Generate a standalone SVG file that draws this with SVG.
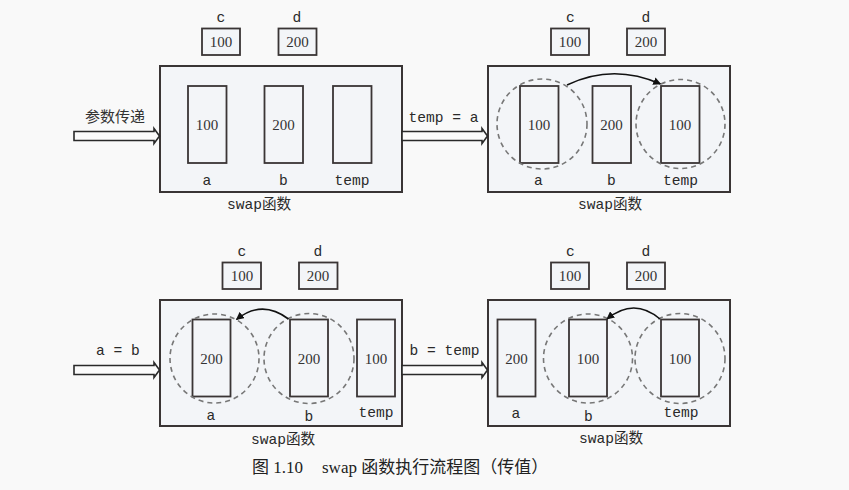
<svg xmlns="http://www.w3.org/2000/svg" width="849" height="490" viewBox="0 0 849 490">
<defs>
<marker id="ah" viewBox="0 0 10 10" refX="9" refY="5" markerWidth="8" markerHeight="8" markerUnits="userSpaceOnUse" orient="auto">
<path d="M0,0 L10,5 L0,10 Z" fill="#111"/>
</marker>
</defs>
<style>
.bg{fill:#f9f9f9}
.box{fill:#f3f5f8;stroke:#3a3535;stroke-width:2}
.cell{fill:#f3f5f8;stroke:#3a3535;stroke-width:1.8}
.sm{fill:#f3f5f8;stroke:#3a3535;stroke-width:1.8}
.dc{fill:none;stroke:#777;stroke-width:1.6;stroke-dasharray:5,4}
.num{font-family:"Liberation Serif",serif;font-size:15px;fill:#333;text-anchor:middle}
.lb{font-family:"Liberation Mono","Noto Sans CJK SC",monospace;font-size:14.6px;fill:#2a2a2a;text-anchor:middle}
.cn{font-family:"Noto Sans CJK SC",sans-serif;font-size:15px;fill:#333;text-anchor:middle}
.cap{font-family:"Liberation Serif","Noto Sans CJK SC",serif;font-size:17px;fill:#222}
.flow{fill:#fbfbfb;stroke:#2a2a2a;stroke-width:1.6;stroke-linejoin:miter}
.cur{fill:none;stroke:#111;stroke-width:1.6}
</style>
<rect class="bg" x="0" y="0" width="849" height="490"/>

<!-- Panel 1 -->
<g id="panel1">
<text class="lb" x="221" y="22">c</text>
<rect class="sm" x="202" y="28.5" width="38" height="26.5"/>
<text class="num" x="221" y="47">100</text>
<text class="lb" x="297" y="22">d</text>
<rect class="sm" x="278.5" y="28.5" width="38" height="26.5"/>
<text class="num" x="297.5" y="47">200</text>
<rect class="box" x="160" y="66" width="242" height="126"/>
<rect class="cell" x="188" y="86" width="38.5" height="77"/>
<text class="num" x="207" y="130">100</text>
<rect class="cell" x="264.5" y="86" width="38.5" height="77"/>
<text class="num" x="283.5" y="130">200</text>
<rect class="cell" x="333" y="86" width="38.5" height="77"/>
<text class="lb" x="207" y="184.5">a</text>
<text class="lb" x="283.5" y="184.5">b</text>
<text class="lb" x="352" y="184.5">temp</text>
<text class="lb" x="259" y="209">swap函数</text>
</g>

<!-- Panel 2 -->
<g id="panel2">
<text class="lb" x="570.5" y="22">c</text>
<rect class="sm" x="551" y="28.5" width="38" height="26.5"/>
<text class="num" x="570" y="47">100</text>
<text class="lb" x="646" y="22">d</text>
<rect class="sm" x="627" y="28.5" width="38" height="26.5"/>
<text class="num" x="646" y="47">200</text>
<rect class="box" x="488" y="66" width="242" height="126"/>
<rect class="cell" x="520" y="86" width="38.5" height="77"/>
<text class="num" x="539" y="130">100</text>
<rect class="cell" x="592.5" y="86" width="38.5" height="77"/>
<text class="num" x="611.5" y="130">200</text>
<rect class="cell" x="661" y="86" width="38.5" height="77"/>
<text class="num" x="680" y="130">100</text>
<circle class="dc" cx="542" cy="124" r="45"/>
<circle class="dc" cx="680.5" cy="124" r="44.5"/>
<text class="lb" x="538.5" y="184.5">a</text>
<text class="lb" x="611.5" y="184.5">b</text>
<text class="lb" x="680.5" y="184.5">temp</text>
<text class="lb" x="610" y="209">swap函数</text>
</g>

<!-- Panel 3 -->
<g id="panel3">
<text class="lb" x="242" y="256">c</text>
<rect class="sm" x="222.5" y="262.5" width="38.5" height="26.5"/>
<text class="num" x="242" y="281">100</text>
<text class="lb" x="318" y="256">d</text>
<rect class="sm" x="299" y="262.5" width="38.5" height="26.5"/>
<text class="num" x="318" y="281">200</text>
<rect class="box" x="160" y="300" width="242" height="126"/>
<rect class="cell" x="192.5" y="319.5" width="38" height="77"/>
<text class="num" x="211.5" y="363.5">200</text>
<rect class="cell" x="290" y="319.5" width="38" height="77"/>
<text class="num" x="309" y="363.5">200</text>
<rect class="cell" x="357" y="319.5" width="38" height="77"/>
<text class="num" x="376" y="363.5">100</text>
<circle class="dc" cx="214.5" cy="358.5" r="44.5"/>
<circle class="dc" cx="309" cy="358.5" r="45"/>
<text class="lb" x="211" y="420">a</text>
<text class="lb" x="309" y="420.5">b</text>
<text class="lb" x="376" y="417">temp</text>
<text class="lb" x="283" y="444">swap函数</text>
</g>

<!-- Panel 4 -->
<g id="panel4">
<text class="lb" x="570.5" y="256">c</text>
<rect class="sm" x="551" y="262.5" width="38" height="26.5"/>
<text class="num" x="570" y="281">100</text>
<text class="lb" x="646" y="256">d</text>
<rect class="sm" x="627" y="262.5" width="38" height="26.5"/>
<text class="num" x="646" y="281">200</text>
<rect class="box" x="488" y="300" width="242" height="126"/>
<rect class="cell" x="497.5" y="319.5" width="38" height="77"/>
<text class="num" x="516.5" y="363.5">200</text>
<rect class="cell" x="569" y="319.5" width="38" height="77"/>
<text class="num" x="588" y="363.5">100</text>
<rect class="cell" x="661" y="319.5" width="38" height="77"/>
<text class="num" x="680" y="363.5">100</text>
<circle class="dc" cx="588" cy="358.5" r="44.5"/>
<circle class="dc" cx="680" cy="358.5" r="45"/>
<text class="lb" x="516" y="418">a</text>
<text class="lb" x="588.5" y="420.5">b</text>
<text class="lb" x="681" y="417">temp</text>
<text class="lb" x="611" y="443">swap函数</text>
</g>

<!-- Connectors -->
<g id="connectors">
<path class="flow" d="M74,131.5 H154 V128.5 L159.5,136 L154,143.5 V140.5 H74 Z"/>
<text class="cn" x="115" y="122">参数传递</text>
<path class="flow" d="M402,131.5 H482 V128.5 L487.5,136 L482,143.5 V140.5 H402 Z"/>
<text class="lb" x="443.5" y="122">temp = a</text>
<path class="flow" d="M74,365.5 H154 V362.5 L159.5,370 L154,377.5 V374.5 H74 Z"/>
<text class="lb" x="118" y="355">a = b</text>
<path class="flow" d="M402,365.5 H482 V362.5 L487.5,370 L482,377.5 V374.5 H402 Z"/>
<text class="lb" x="444.5" y="355">b = temp</text>
<path class="cur" d="M567,85 Q613,63 660.5,84" marker-end="url(#ah)"/>
<path class="cur" d="M288.5,319 Q262,299 236.5,319.5" marker-end="url(#ah)"/>
<path class="cur" d="M660,319 Q634,297 607,319" marker-end="url(#ah)"/>
</g>

<g id="caption">
<text class="cap" x="252" y="473">图 1.10</text>
<text class="cap" x="322" y="473">swap 函数执行流程图（传值）</text>
</g>
</svg>
